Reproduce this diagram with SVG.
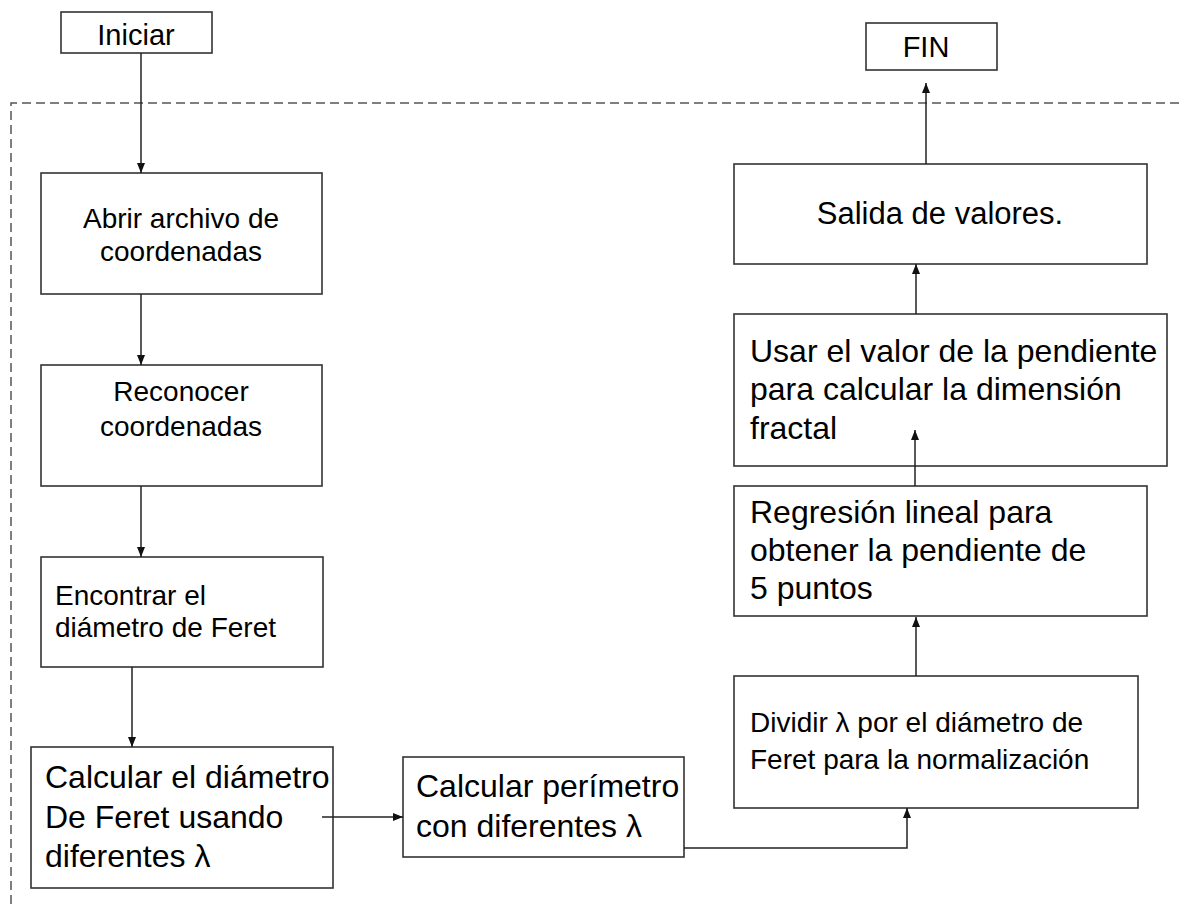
<svg xmlns="http://www.w3.org/2000/svg" width="1179" height="904" viewBox="0 0 1179 904">
<style>
.box{fill:#fff;stroke:#333;stroke-width:1.6}
.t{font-family:"Liberation Sans",Arial,sans-serif;fill:#000}
.c{text-anchor:middle}
.conn{fill:none;stroke:#222;stroke-width:1.5}
.dash{fill:none;stroke:#555;stroke-width:1.5;stroke-dasharray:9,5}
</style>
<defs>
<marker id="ah" markerUnits="userSpaceOnUse" markerWidth="10" markerHeight="10" viewBox="0 0 10 10" refX="10" refY="5" orient="auto">
<path d="M0,1 L10,5 L0,9 Z" fill="#111"/>
</marker>
</defs>
<rect width="1179" height="904" fill="#fff"/>
<path class="dash" d="M11,904 V103 H1179"/>

<g id="iniciar"><rect class="box" x="61" y="12" width="151" height="41"/><text class="t c" x="136" y="45" font-size="29">Iniciar</text></g>
<g id="fin"><rect class="box" x="866" y="23" width="131" height="47"/><text class="t c" x="926" y="57" font-size="29">FIN</text></g>
<g id="abrir"><rect class="box" x="41" y="173" width="281" height="121"/><text class="t c" x="181" y="228" font-size="28">Abrir archivo de</text><text class="t c" x="181" y="261" font-size="28">coordenadas</text></g>
<g id="reconocer"><rect class="box" x="41" y="365" width="281" height="121"/><text class="t c" x="181" y="401" font-size="28">Reconocer</text><text class="t c" x="181" y="436" font-size="28">coordenadas</text></g>
<g id="encontrar"><rect class="box" x="41" y="557" width="282" height="110"/><text class="t" x="55" y="605" font-size="28">Encontrar el</text><text class="t" x="55" y="637" font-size="28">diámetro de Feret</text></g>
<g id="calcdiam"><rect class="box" x="31" y="747" width="302" height="141"/><text class="t" x="45" y="788" font-size="32">Calcular el diámetro</text><text class="t" x="45" y="828" font-size="32">De Feret usando</text><text class="t" x="45" y="867" font-size="32">diferentes λ</text></g>
<g id="perimetro"><rect class="box" x="403" y="757" width="281" height="100"/><text class="t" x="416" y="797" font-size="32">Calcular perímetro</text><text class="t" x="416" y="837" font-size="32">con diferentes λ</text></g>
<g id="dividir"><rect class="box" x="734" y="676" width="404" height="132"/><text class="t" x="750" y="732" font-size="28">Dividir λ por el diámetro de</text><text class="t" x="750" y="769" font-size="28">Feret para la normalización</text></g>
<g id="regresion"><rect class="box" x="734" y="486" width="413" height="130"/><text class="t" x="750" y="523" font-size="32">Regresión lineal para</text><text class="t" x="750" y="561" font-size="32">obtener la pendiente de</text><text class="t" x="750" y="599" font-size="32">5 puntos</text></g>
<g id="usar"><rect class="box" x="734" y="314" width="433" height="152"/><text class="t" x="750" y="362" font-size="32">Usar el valor de la pendiente</text><text class="t" x="750" y="400" font-size="32">para calcular la dimensión</text><text class="t" x="750" y="439" font-size="32">fractal</text></g>
<g id="salida"><rect class="box" x="734" y="164" width="413" height="100"/><text class="t c" x="940" y="224" font-size="31">Salida de valores.</text></g>

<g id="connectors">
<path class="conn" d="M141,53 V173" marker-end="url(#ah)"/>
<path class="conn" d="M141,294 V365" marker-end="url(#ah)"/>
<path class="conn" d="M141,486 V557" marker-end="url(#ah)"/>
<path class="conn" d="M132,667 V747" marker-end="url(#ah)"/>
<path class="conn" d="M322,817 H403" marker-end="url(#ah)"/>
<path class="conn" d="M684,848 H907 V808" marker-end="url(#ah)"/>
<path class="conn" d="M916,676 V617" marker-end="url(#ah)"/>
<path class="conn" d="M915,486 V430" marker-end="url(#ah)"/>
<path class="conn" d="M916,314 V264" marker-end="url(#ah)"/>
<path class="conn" d="M926,164 V83" marker-end="url(#ah)"/>
</g>
</svg>
